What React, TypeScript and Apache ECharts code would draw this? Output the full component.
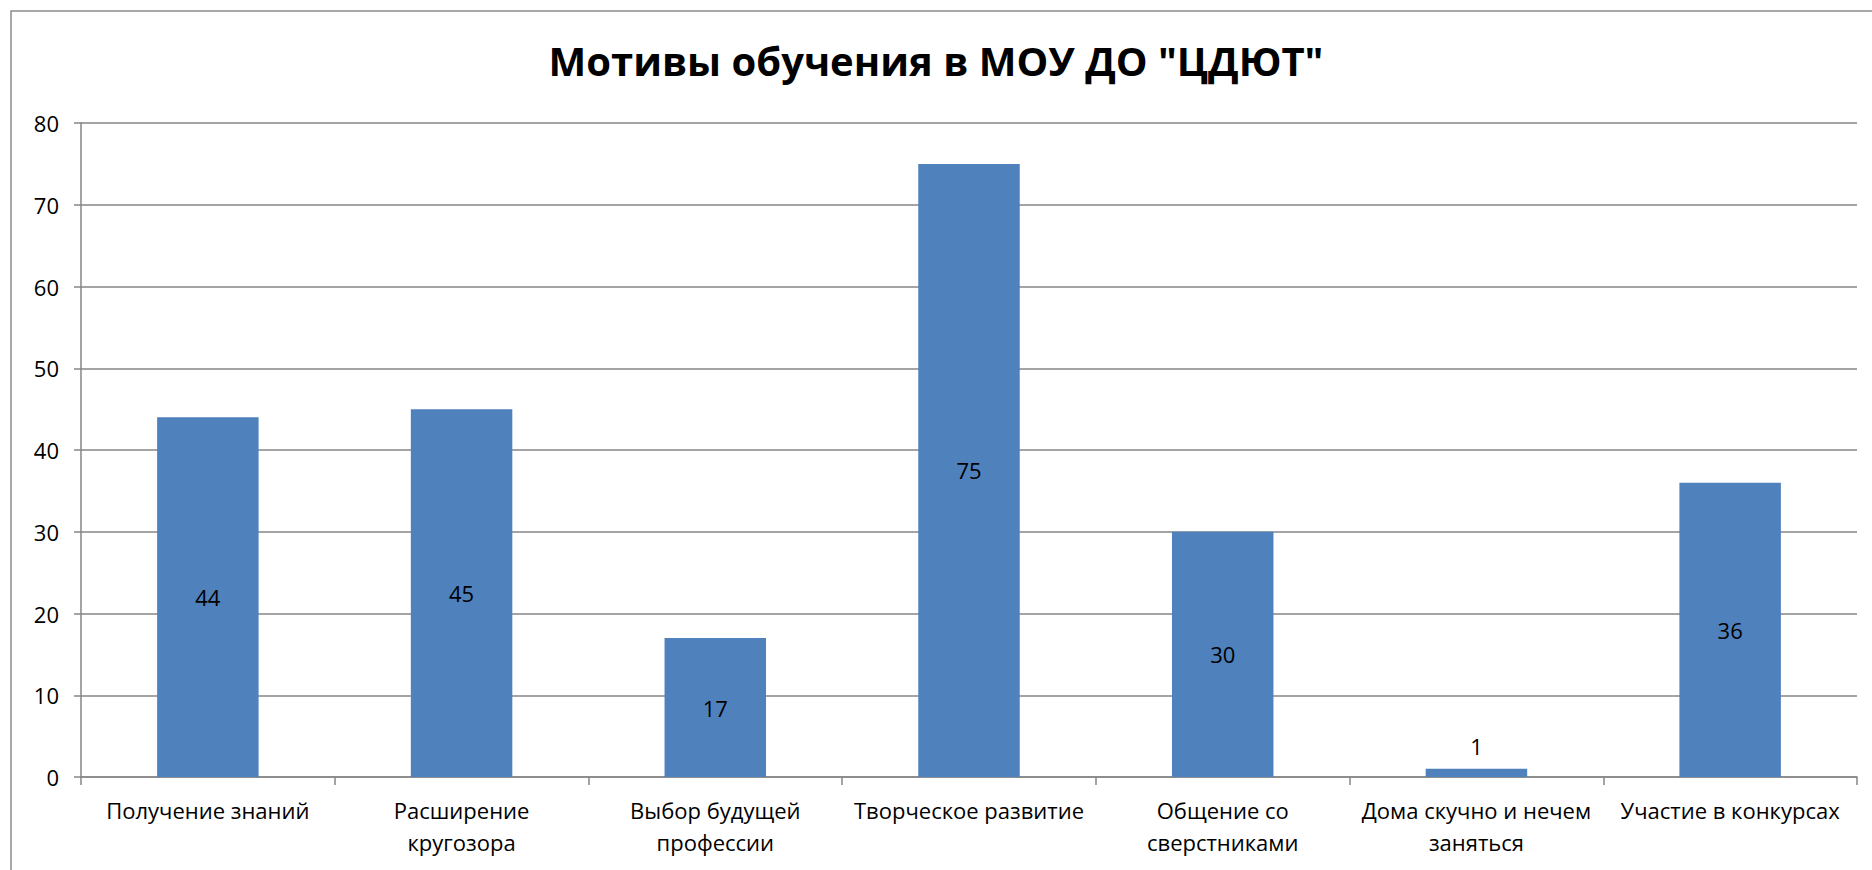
import React, { useEffect, useRef } from "react";
import * as echarts from "echarts";

const title = 'Мотивы обучения в МОУ ДО "ЦДЮТ"';
const categories = [
  "Получение знаний",
  "Расширение\nкругозора",
  "Выбор будущей\nпрофессии",
  "Творческое развитие",
  "Общение со\nсверстниками",
  "Дома скучно и нечем\nзаняться",
  "Участие в конкурсах",
];
const values = [44, 45, 17, 75, 30, 1, 36];
const yMin = 0;
const yMax = 80;
const yStep = 10;

export default function App() {
  const ref = useRef<HTMLDivElement>(null);
  useEffect(() => {
    if (!ref.current) return;
    const chart = echarts.init(ref.current, null, { renderer: "svg" });
    const font = "'Open Sans', 'Noto Sans', sans-serif";
    chart.setOption({
      animation: false,
      backgroundColor: "#ffffff",
      title: {
        text: title,
        left: "center",
        top: 35,
        textStyle: {
          fontFamily: font,
          fontWeight: "bold",
          fontSize: 40,
          color: "#000000",
        },
      },
      graphic: [
        {
          type: "rect",
          shape: { x: 11, y: 11, width: 2000, height: 1000 },
          style: { fill: "none", stroke: "#8c8c8c", lineWidth: 1.5 },
          silent: true,
        },
      ],
      grid: { left: 81, right: 15, top: 123, bottom: 93, containLabel: false },
      xAxis: {
        type: "category",
        data: categories,
        axisLine: { lineStyle: { color: "#868686", width: 1.5 } },
        axisTick: { show: true, length: 8, alignWithLabel: false, lineStyle: { color: "#868686", width: 1.5 } },
        axisLabel: {
          color: "#000000",
          fontFamily: font,
          fontSize: 22,
          lineHeight: 32,
          margin: 17,
          interval: 0,
        },
      },
      yAxis: {
        type: "value",
        min: yMin,
        max: yMax,
        interval: yStep,
        axisLine: { show: true, lineStyle: { color: "#868686", width: 1.5 } },
        axisTick: { show: true, length: 7, lineStyle: { color: "#868686", width: 1.5 } },
        splitLine: { lineStyle: { color: "#868686", width: 1.5 } },
        axisLabel: {
          color: "#000000",
          fontFamily: font,
          fontSize: 22,
          margin: 22,
        },
      },
      series: [
        {
          type: "bar",
          data: values.map((v) => ({
            value: v,
            label: { position: v < 5 ? "top" : "inside" },
          })),
          barWidth: "40%",
          itemStyle: { color: "#4F81BD" },
          label: {
            show: true,
            color: "#000000",
            fontFamily: font,
            fontSize: 22,
            distance: 12,
          },
        },
      ],
    });
    return () => chart.dispose();
  }, []);
  return (
    <div
      ref={ref}
      style={{ position: "fixed", left: 0, top: 0, width: 1872, height: 870 }}
    />
  );
}
